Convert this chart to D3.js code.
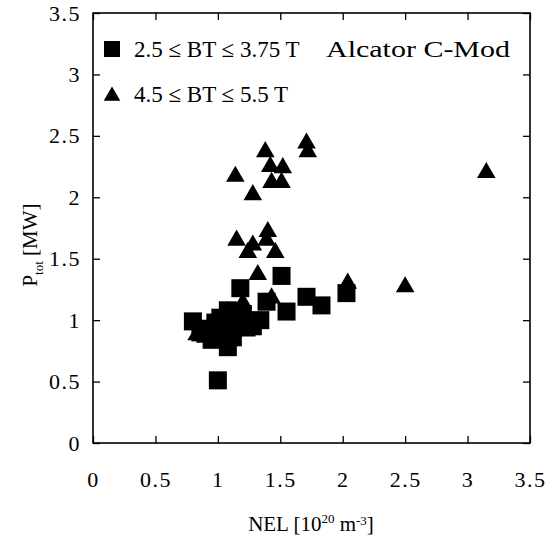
<!DOCTYPE html>
<html>
<head>
<meta charset="utf-8">
<script src="https://cdn.jsdelivr.net/npm/d3@7"></script>
<style>
  body { margin: 0; background: #fff; }
  text { font-family: "Liberation Serif", "DejaVu Serif", serif; fill: #000; }
</style>
</head>
<body>
<svg id="chart"></svg>
<script>
// low field shots (squares)
const lowNel = [1.00, 0.80, 0.98, 1.08, 1.12, 1.23, 1.34, 0.86, 1.08, 0.95, 1.18, 1.51, 1.39, 1.71, 1.83, 1.55, 2.03, 1.05, 1.15, 1.28, 0.92, 1.02, 1.20, 1.10];
const lowP   = [0.51, 0.99, 0.98, 1.08, 0.86, 0.94, 1.00, 0.90, 0.78, 0.84, 1.26, 1.36, 1.15, 1.19, 1.12, 1.07, 1.22, 0.93, 0.97, 0.95, 0.93, 1.02, 1.05, 0.90];
// high field shots (triangles)
const highNel = [1.71, 1.72, 1.38, 1.42, 1.52, 1.14, 1.43, 1.51, 1.28, 1.15, 1.40, 1.28, 1.24, 1.39, 1.46, 1.32, 1.20, 1.43, 2.04, 2.50, 3.15, 0.83, 0.90, 1.05, 1.12];
const highP   = [2.44, 2.37, 2.37, 2.25, 2.24, 2.17, 2.12, 2.12, 2.02, 1.65, 1.72, 1.61, 1.55, 1.65, 1.55, 1.37, 1.14, 1.18, 1.30, 1.27, 2.20, 0.88, 0.86, 0.85, 0.90];
const ticks = [0, 0.5, 1, 1.5, 2, 2.5, 3, 3.5];
const legendLabels = ["2.5 \u2264 BT \u2264 3.75 T", "4.5 \u2264 BT \u2264 5.5 T"];
const machine = "Alcator C-Mod";

const w = 559, h = 540;
const pLeft = 93, pRight = 530, pTop = 13, pBottom = 443;

let svg = d3.select('#chart')
    .attr('width', w)
    .attr('height', h);

let xScale = d3.scaleLinear().domain([0, 3.5]).range([pLeft, pRight]);
let yScale = d3.scaleLinear().domain([0, 3.5]).range([pBottom, pTop]);

const tickLen = 7;
// axes: ticks pointing inward on all four sides
const axisFmt = d3.format("");
svg.append('g')
    .attr('transform', 'translate(0,' + pBottom + ')')
    .call(d3.axisBottom(xScale).tickValues(ticks).tickSize(-tickLen).tickPadding(28).tickFormat(axisFmt))
    .call(g => g.select('.domain').remove());
svg.append('g')
    .attr('transform', 'translate(0,' + pTop + ')')
    .call(d3.axisTop(xScale).tickValues(ticks).tickSize(-tickLen).tickFormat(''))
    .call(g => g.select('.domain').remove());
svg.append('g')
    .attr('transform', 'translate(' + pLeft + ',0)')
    .call(d3.axisLeft(yScale).tickValues(ticks).tickSize(-tickLen).tickPadding(12).tickFormat(axisFmt))
    .call(g => g.select('.domain').remove());
svg.append('g')
    .attr('transform', 'translate(' + pRight + ',0)')
    .call(d3.axisRight(yScale).tickValues(ticks).tickSize(-tickLen).tickFormat(''))
    .call(g => g.select('.domain').remove());

svg.selectAll('.tick line').attr('stroke', '#000').attr('stroke-width', 1.3);
svg.selectAll('.tick text')
    .style('font-size', '22px')
    .style('letter-spacing', '1.5px')
    .style('font-family', '"Liberation Serif", serif')
    .attr('fill', '#000');

// frame
svg.append('rect')
    .attr('x', pLeft).attr('y', pTop)
    .attr('width', pRight - pLeft).attr('height', pBottom - pTop)
    .attr('fill', 'none').attr('stroke', '#000').attr('stroke-width', 1.6);

// data
const sq = 18;
svg.append('g').selectAll('rect')
    .data(d3.zip(lowNel, lowP))
    .enter()
    .append('rect')
    .attr('x', d => xScale(d[0]) - sq / 2)
    .attr('y', d => yScale(d[1]) - sq / 2)
    .attr('width', sq).attr('height', sq)
    .attr('fill', '#000');

const tri = d3.symbol().type(d3.symbolTriangle).size(150);
svg.append('g').selectAll('path')
    .data(d3.zip(highNel, highP))
    .enter()
    .append('path')
    .attr('d', tri)
    .attr('transform', d => 'translate(' + xScale(d[0]) + ',' + yScale(d[1]) + ')')
    .attr('fill', '#000');

// legend
svg.append('rect')
    .attr('x', 104).attr('y', 41).attr('width', 16).attr('height', 16)
    .attr('fill', '#000');
svg.append('path')
    .attr('d', d3.symbol().type(d3.symbolTriangle).size(120))
    .attr('transform', 'translate(112,96)')
    .attr('fill', '#000');
svg.selectAll('.legend')
    .data(legendLabels)
    .enter()
    .append('text')
    .attr('x', 134)
    .attr('y', (d, i) => 57 + i * 45)
    .style('font-size', '23px')
    .text(d => d);
svg.append('text')
    .attr('x', 326)
    .attr('y', 57)
    .attr('textLength', 184)
    .attr('lengthAdjust', 'spacingAndGlyphs')
    .style('font-size', '23px')
    .text(machine);

// x-axis title
let xt = svg.append('text')
    .attr('x', 311)
    .attr('y', 531)
    .style('text-anchor', 'middle')
    .style('font-size', '21px');
xt.append('tspan').text('NEL [10');
xt.append('tspan').attr('dy', -8).style('font-size', '13px').text('20');
xt.append('tspan').attr('dy', 8).text(' m');
xt.append('tspan').attr('dy', -6).style('font-size', '13px').text('-3');
xt.append('tspan').attr('dy', 6).text(']');

// y-axis title
let yt = svg.append('text')
    .attr('transform', 'rotate(-90)')
    .attr('x', -245)
    .attr('y', 37)
    .style('text-anchor', 'middle')
    .style('font-size', '21px');
yt.append('tspan').text('P');
yt.append('tspan').attr('dy', 6).style('font-size', '13px').text('tot');
yt.append('tspan').attr('dy', -6).text(' [MW]');
</script>
</body>
</html>
